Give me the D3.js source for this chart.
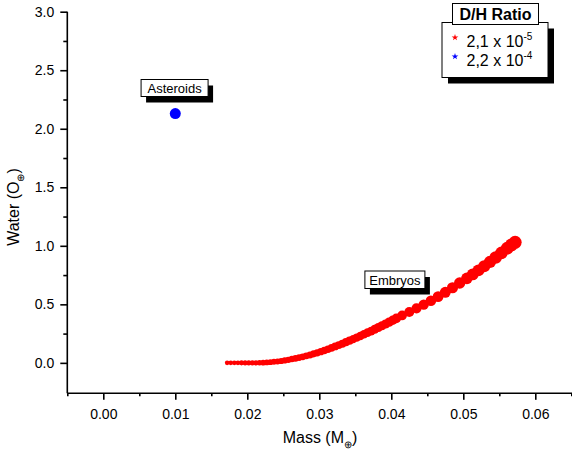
<!DOCTYPE html>
<html>
<head>
<meta charset="utf-8">
<script src="https://cdn.jsdelivr.net/npm/d3@7"></script>
<style>
  body { margin: 0; background: #fff; }
  svg { display: block; font-family: Arial, "Liberation Sans", sans-serif; }
  .axis path, .axis line { stroke: #000; stroke-width: 1.6; }
  .axis text { font-size: 14px; fill: #000; font-family: Arial, "Liberation Sans", sans-serif; }
</style>
</head>
<body>
<script>
// embryos: mass (Earth masses) and water (Earth oceans)
var embryoMass = [
  0.0172, 0.0177, 0.0182, 0.0187, 0.0192, 0.0197, 0.0202, 0.0207, 0.0212, 0.0217,
  0.0222, 0.0227, 0.0232, 0.0237, 0.0242, 0.0247, 0.0252, 0.0257, 0.0262, 0.0267,
  0.0272, 0.0277, 0.0282, 0.0287, 0.0292, 0.0297, 0.0302, 0.0307, 0.0312, 0.0317,
  0.0322, 0.0327, 0.0332, 0.0337, 0.0342, 0.0347, 0.0352, 0.0357, 0.0362, 0.0367,
  0.0372, 0.0377, 0.0382, 0.0387, 0.0392, 0.0397, 0.0402, 0.0407, 0.0415, 0.0425,
  0.0435, 0.0445, 0.0455, 0.0465, 0.0475, 0.0485, 0.0495, 0.0505, 0.0513, 0.0521,
  0.0529, 0.0537, 0.0545, 0.0553, 0.0561, 0.0567, 0.0572
];
var embryoWater = [
  0.000, 0.000, 0.000, 0.000, 0.000, 0.000, 0.000, 0.000, 0.000, 0.001,
  0.002, 0.004, 0.006, 0.009, 0.012, 0.016, 0.021, 0.026, 0.032, 0.038,
  0.045, 0.052, 0.060, 0.068, 0.077, 0.086, 0.096, 0.106, 0.117, 0.128,
  0.140, 0.152, 0.164, 0.177, 0.190, 0.203, 0.216, 0.230, 0.244, 0.258,
  0.272, 0.287, 0.302, 0.317, 0.332, 0.348, 0.364, 0.380, 0.405, 0.435,
  0.466, 0.498, 0.531, 0.566, 0.603, 0.642, 0.682, 0.722, 0.755, 0.790,
  0.826, 0.862, 0.900, 0.940, 0.980, 1.008, 1.030
];

// asteroids
var asteroidMass = [0.010];
var asteroidWater = [2.13];

var xTicks = [0.00, 0.01, 0.02, 0.03, 0.04, 0.05, 0.06];
var xMinor = [-0.005, 0.005, 0.015, 0.025, 0.035, 0.045, 0.055, 0.065];
var yTicks = [0.0, 0.5, 1.0, 1.5, 2.0, 2.5, 3.0];
var yMinor = [0.25, 0.75, 1.25, 1.75, 2.25, 2.75];

var legendTitle = "D/H Ratio";
var legendLabels = ["2,1 x 10", "2,2 x 10"];
var legendExps = ["-5", "-4"];
var legendColors = ["#ff0000", "#0000ff"];

var width = 572, height = 456;

var x = d3.scaleLinear().domain([-0.005, 0.065]).range([67.3, 571.3]);
var y = d3.scaleLinear().domain([-0.26, 3.0]).range([393.3, 11.7]);
var r = d3.scaleLinear().domain([0.0172, 0.0572]).range([2.3, 6.5]);

var svg = d3.select("body").append("svg")
    .attr("width", width)
    .attr("height", height);

// axes
svg.append("g")
    .attr("class", "axis")
    .attr("transform", "translate(0," + y(-0.26) + ")")
    .call(d3.axisBottom(x).tickValues(xMinor).tickSize(3).tickFormat(""))
    .call(g => g.select(".domain").remove());

svg.append("g")
    .attr("class", "axis")
    .attr("transform", "translate(0," + y(-0.26) + ")")
    .call(d3.axisBottom(x).tickValues(xTicks).tickSize(6.5).tickPadding(9)
      .tickFormat(d3.format(".2f")))
    .call(g => g.select(".domain").attr("d", "M" + x(-0.005) + ",0H" + (width + 5)));

svg.append("g")
    .attr("class", "axis")
    .attr("transform", "translate(" + x(-0.005) + ",0)")
    .call(d3.axisLeft(y).tickValues(yMinor).tickSize(4).tickFormat(""))
    .call(g => g.select(".domain").remove());

svg.append("g")
    .attr("class", "axis")
    .attr("transform", "translate(" + x(-0.005) + ",0)")
    .call(d3.axisLeft(y).tickValues(yTicks).tickSize(7).tickPadding(6)
      .tickFormat(d3.format(".1f")))
    .call(g => g.select(".domain").attr("d", "M0," + y(3.0) + "V" + y(-0.26)));

// axis titles
var xt = svg.append("text")
    .attr("x", 320)
    .attr("y", 443)
    .attr("text-anchor", "middle")
    .style("font-size", "16px");
xt.append("tspan").text("Mass (M");
xt.append("tspan").attr("dy", 5).style("font-size", "10px").text("\u2295");
xt.append("tspan").attr("dy", -5).text(")");

var yt = svg.append("text")
    .attr("transform", "translate(18.5,207) rotate(-90)")
    .attr("text-anchor", "middle")
    .style("font-size", "16px");
yt.append("tspan").text("Water (O");
yt.append("tspan").attr("dy", 5).style("font-size", "10px").text("\u2295");
yt.append("tspan").attr("dy", -5).text(")");

// embryos
var embryos = embryoMass.map((m, i) => ({m: m, w: embryoWater[i]}));
svg.append("g").selectAll("circle")
    .data(embryos)
    .join("circle")
    .attr("cx", d => x(d.m))
    .attr("cy", d => y(d.w))
    .attr("r", d => r(d.m))
    .attr("fill", "#ff0000");

// asteroids
svg.append("g").selectAll("circle")
    .data(asteroidMass.map((m, i) => ({m: m, w: asteroidWater[i]})))
    .join("circle")
    .attr("cx", d => x(d.m))
    .attr("cy", d => y(d.w))
    .attr("r", 5.5)
    .attr("fill", "#0000ff");

// boxed labels with drop shadow
function boxLabel(cx, top, w, h, label, size, baseline) {
  var g = svg.append("g");
  g.append("rect")
      .attr("x", cx - w / 2 + 5).attr("y", top + 6)
      .attr("width", w).attr("height", h)
      .attr("fill", "#000");
  g.append("rect")
      .attr("x", cx - w / 2).attr("y", top)
      .attr("width", w).attr("height", h)
      .attr("fill", "#fff").attr("stroke", "#000").attr("stroke-width", 1);
  g.append("text")
      .attr("x", cx).attr("y", top + baseline)
      .attr("text-anchor", "middle")
      .style("font-size", size + "px")
      .text(label);
}
boxLabel(x(0.0099), 79.5, 67, 17, "Asteroids", 13, 13);
boxLabel(x(0.0405), 271, 60, 17.5, "Embryos", 13, 13.5);

// legend
var lg = svg.append("g");
lg.append("rect").attr("x", 448).attr("y", 28.5).attr("width", 106).attr("height", 55).attr("fill", "#000");
lg.append("rect").attr("x", 442).attr("y", 22.5).attr("width", 106).attr("height", 55)
    .attr("fill", "#fff").attr("stroke", "#000").attr("stroke-width", 1);
lg.append("rect").attr("x", 452.5).attr("y", 3.5).attr("width", 86).attr("height", 21)
    .attr("fill", "#fff").attr("stroke", "#000").attr("stroke-width", 1);
lg.append("text").attr("x", 495.5).attr("y", 20)
    .attr("text-anchor", "middle")
    .style("font-size", "16px").style("font-weight", "bold")
    .text(legendTitle);

legendLabels.forEach(function(lab, i) {
  var by = 46.5 + i * 19;
  lg.append("path")
      .attr("d", d3.symbol(d3.symbolStar, 14)())
      .attr("transform", "translate(455," + (by - 9) + ")")
      .attr("fill", legendColors[i]);
  var t = lg.append("text").attr("x", 466.5).attr("y", by).style("font-size", "16px");
  t.append("tspan").text(lab);
  t.append("tspan").attr("dy", -7).style("font-size", "10px").text(legendExps[i]);
});
</script>
</body>
</html>
